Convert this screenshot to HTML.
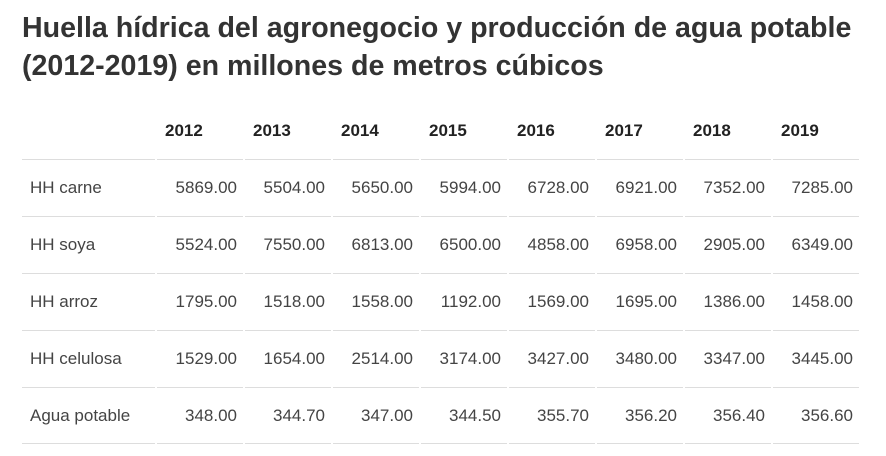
<!DOCTYPE html>
<html><head><meta charset="utf-8"><style>
body{margin:0;background:#fff;width:886px;height:456px;overflow:hidden;font-family:"Liberation Sans",sans-serif;}
h1{position:absolute;left:22px;top:9px;margin:0;font-size:28.6px;line-height:38px;font-weight:bold;color:#333;letter-spacing:0;}
table{position:absolute;left:20px;top:102px;border-collapse:separate;border-spacing:2px 0;font-size:17px;color:#444;}
th{height:57px;text-align:left;padding:0 0 0 8px;color:#222;font-size:17px;box-sizing:border-box;}
td{height:57px;border-top:1px solid #ddd;text-align:right;padding:0 6px 0 0;box-sizing:border-box;}
tr:last-child td{border-bottom:1px solid #ddd;}
td:first-child{text-align:left;padding-left:8px;width:133px;}
td:not(:first-child),th:not(:first-child){width:86px;}
</style></head><body>
<h1>Huella hídrica del agronegocio y producción de agua potable<br>(2012-2019) en millones de metros cúbicos</h1>
<table>
<tr><th></th><th>2012</th><th>2013</th><th>2014</th><th>2015</th><th>2016</th><th>2017</th><th>2018</th><th>2019</th></tr>
<tr><td>HH carne</td><td>5869.00</td><td>5504.00</td><td>5650.00</td><td>5994.00</td><td>6728.00</td><td>6921.00</td><td>7352.00</td><td>7285.00</td></tr>
<tr><td>HH soya</td><td>5524.00</td><td>7550.00</td><td>6813.00</td><td>6500.00</td><td>4858.00</td><td>6958.00</td><td>2905.00</td><td>6349.00</td></tr>
<tr><td>HH arroz</td><td>1795.00</td><td>1518.00</td><td>1558.00</td><td>1192.00</td><td>1569.00</td><td>1695.00</td><td>1386.00</td><td>1458.00</td></tr>
<tr><td>HH celulosa</td><td>1529.00</td><td>1654.00</td><td>2514.00</td><td>3174.00</td><td>3427.00</td><td>3480.00</td><td>3347.00</td><td>3445.00</td></tr>
<tr><td>Agua potable</td><td>348.00</td><td>344.70</td><td>347.00</td><td>344.50</td><td>355.70</td><td>356.20</td><td>356.40</td><td>356.60</td></tr>
</table>
</body></html>
